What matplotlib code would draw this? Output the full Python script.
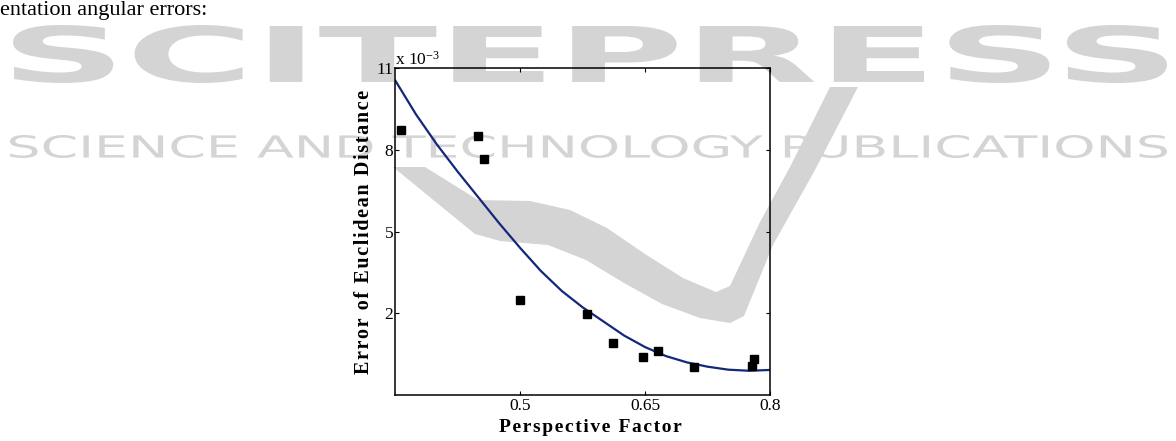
import matplotlib
matplotlib.use('Agg')
import matplotlib.pyplot as plt
from matplotlib.textpath import TextPath
from matplotlib.patches import PathPatch, Polygon
from matplotlib.font_manager import FontProperties
from matplotlib.transforms import Affine2D

plt.rcParams['font.family'] = ['Liberation Serif', 'DejaVu Serif']
plt.rcParams['mathtext.fontset'] = 'custom'
plt.rcParams['mathtext.rm'] = 'Liberation Serif'
plt.rcParams['mathtext.default'] = 'regular'

# Measured points (error in units of 1e-3)
factor = [0.357, 0.449, 0.457, 0.500, 0.580, 0.612, 0.647, 0.666, 0.709, 0.778, 0.781]
error = [8.74, 8.53, 7.66, 2.49, 1.96, 0.90, 0.41, 0.63, 0.04, 0.07, 0.31]

# Fitted curve
fit_x = [0.35, 0.375, 0.40, 0.425, 0.45, 0.475, 0.50, 0.525, 0.55, 0.575,
         0.60, 0.625, 0.65, 0.675, 0.70, 0.725, 0.75, 0.775, 0.80]
fit_y = [10.55, 9.30, 8.20, 7.20, 6.25, 5.30, 4.40, 3.55, 2.82, 2.22,
         1.70, 1.18, 0.76, 0.43, 0.20, 0.04, -0.07, -0.11, -0.08]

x_ticks = [0.5, 0.65, 0.8]
y_ticks = [2, 5, 8, 11]

GREY = '#d4d4d4'
W, H = 1176, 441

fig = plt.figure(figsize=(W / 100, H / 100), dpi=100)

# page background: publisher watermark
bg = fig.add_axes([0, 0, 1, 1], zorder=0)
bg.set_xlim(0, W)
bg.set_ylim(H, 0)
bg.axis('off')


def stretched_text(s, x0, x1, y0, y1, weight='bold'):
    tp = TextPath((0, 0), s, size=100,
                  prop=FontProperties(family='DejaVu Sans', weight=weight))
    ext = tp.get_extents()
    tr = (Affine2D().translate(-ext.x0, -ext.y0)
          .scale((x1 - x0) / ext.width, -(y1 - y0) / ext.height)
          .translate(x0, y1))
    bg.add_patch(PathPatch(tr.transform_path(tp), color=GREY, lw=0))


swoosh = [(425, 167), (478, 200), (530, 201), (570, 210), (607, 228), (645, 254),
          (683, 278), (716, 292), (730, 286), (760, 222), (790, 167), (830, 87),
          (858, 87), (815, 170), (773, 245), (744, 316), (730, 323), (700, 318),
          (662, 304), (624, 283), (586, 260), (548, 245), (500, 241), (475, 234),
          (393, 167)]
bg.add_patch(Polygon(swoosh, closed=True, color=GREY, lw=0, joinstyle='round'))
stretched_text('SCITEPRESS', 13, 1167, 25, 83)
stretched_text('SCIENCE AND TECHNOLOGY PUBLICATIONS', 10, 1167, 135, 158,
               weight='normal')

fig.text(0.0, 1 - 15 / H, 'entation angular errors:', fontsize=16, va='baseline')

# main chart
ax = fig.add_axes([395.3 / W, 1 - 395 / H, 374.7 / W, 326.7 / H], zorder=1)
ax.patch.set_alpha(0)

ax.plot(fit_x, fit_y, color='#13287a', lw=1.6, zorder=2)
ax.plot(factor, error, 's', color='black', ms=6.3, zorder=3)

ax.set_xlim(0.35, 0.8)
ax.set_ylim(-1, 11)
ax.set_xticks(x_ticks)
ax.set_xticklabels(['0.5', '0.65', '0.8'])
ax.set_yticks(y_ticks)
ax.set_yticklabels([str(v) for v in y_ticks])
ax.tick_params(direction='in', length=3, width=0.8, top=True, right=True,
               labelsize=12.5)
ax.tick_params(axis='x', pad=2)
ax.tick_params(axis='y', pad=1.5)
for sp in ax.spines.values():
    sp.set_linewidth(1.1)

ax.text(0.0, 1.012, 'x 10$^{-3}$', transform=ax.transAxes, fontsize=12.5,
        va='baseline', ha='left')


def tracked(s):
    return '\u200a'.join(s)


ax.set_xlabel(tracked('Perspective Factor'), fontsize=14, fontweight='bold')
ax.set_ylabel(tracked('Error of Euclidean Distance'), fontsize=14.5, fontweight='bold')
ax.xaxis.set_label_coords(0.52, -0.072)
ax.yaxis.set_label_coords(-0.057, 0.5)

fig.savefig('out.png', dpi=100)
